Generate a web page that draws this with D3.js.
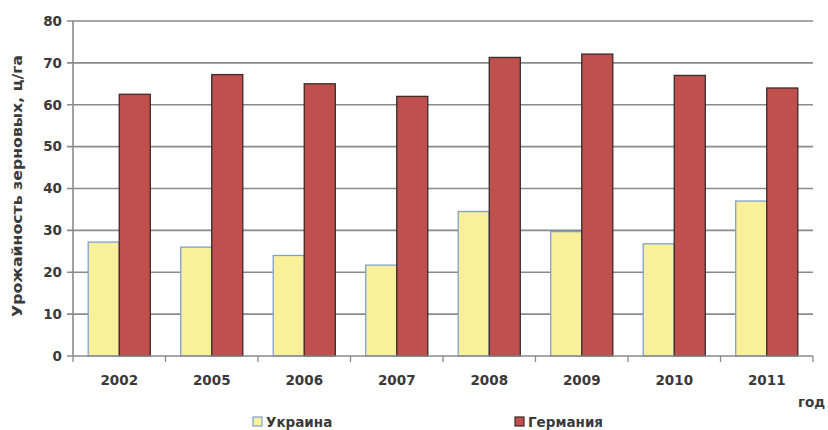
<!DOCTYPE html>
<html>
<head>
<meta charset="utf-8">
<style>
  body { margin: 0; background: #fff; }
  svg text { font-family: 'DejaVu Sans', Verdana, sans-serif; fill: #3a3a3a; }
  .tick-lbl { font-size: 13.5px; font-weight: bold; }
  .grid line { stroke: #8a8a8a; stroke-width: 1.6px; }
</style>
</head>
<body>
<div id="chart"></div>
<script src="https://cdn.jsdelivr.net/npm/d3@7"></script>
<script>
  var years = ["2002", "2005", "2006", "2007", "2008", "2009", "2010", "2011"];
  var ukraine = [27.2, 26, 24, 21.7, 34.5, 29.7, 26.8, 37];
  var germany = [62.5, 67.2, 65, 62, 71.3, 72.1, 67, 64];
  var yTicks = [0, 10, 20, 30, 40, 50, 60, 70, 80];
  var seriesNames = ["Украина", "Германия"];

  var width = 828, height = 430;
  var plotLeft = 73, plotRight = 813, plotTop = 21, plotBottom = 356;

  var svg = d3.select("#chart").append("svg")
    .attr("width", width)
    .attr("height", height);

  var x = d3.scaleBand().domain(years).range([plotLeft, plotRight]);
  var y = d3.scaleLinear().domain([0, 80]).range([plotBottom, plotTop]);
  var inner = d3.scaleBand().domain([0, 1]).range([0, x.bandwidth()])
    .paddingInner(0).paddingOuter(0.49);

  // grid lines
  svg.append("g").attr("class", "grid")
    .selectAll("line")
    .data(yTicks.slice(1))
    .enter().append("line")
      .attr("x1", plotLeft - 6).attr("x2", plotRight)
      .attr("y1", function(d) { return y(d); })
      .attr("y2", function(d) { return y(d); });

  // y axis line
  svg.append("line")
    .attr("x1", plotLeft).attr("x2", plotLeft)
    .attr("y1", plotTop).attr("y2", plotBottom)
    .attr("stroke", "#8a8a8a").attr("stroke-width", 1.6);

  svg.append("g").selectAll("text")
    .data(yTicks)
    .enter().append("text")
      .attr("class", "tick-lbl")
      .attr("x", plotLeft - 11)
      .attr("y", function(d) { return y(d); })
      .attr("dy", "0.36em")
      .attr("text-anchor", "end")
      .text(function(d) { return d; });

  var colors = [
    { fill: "#f8f199", stroke: "#7f9fd0" },
    { fill: "#c0504d", stroke: "#3a2a2a" }
  ];
  var series = [ukraine, germany];

  series.forEach(function(vals, si) {
    svg.append("g").selectAll("rect")
      .data(vals)
      .enter().append("rect")
        .attr("x", function(d, i) { return x(years[i]) + inner(si); })
        .attr("y", function(d) { return y(d); })
        .attr("width", inner.bandwidth())
        .attr("height", function(d) { return y(0) - y(d); })
        .attr("fill", colors[si].fill)
        .attr("stroke", colors[si].stroke)
        .attr("stroke-width", 1.3);
  });

  // x axis
  var xAxis = svg.append("g").attr("transform", "translate(0," + plotBottom + ")");
  xAxis.append("line")
    .attr("x1", plotLeft - 6).attr("x2", plotRight)
    .attr("stroke", "#8a8a8a").attr("stroke-width", 1.6);
  xAxis.selectAll(".xt")
    .data(years.map(function(d) { return x(d); }).concat([plotRight]))
    .enter().append("line")
      .attr("x1", function(d) { return d; }).attr("x2", function(d) { return d; })
      .attr("y1", 0).attr("y2", 6)
      .attr("stroke", "#8a8a8a").attr("stroke-width", 1.3);
  xAxis.selectAll("text")
    .data(years)
    .enter().append("text")
      .attr("class", "tick-lbl")
      .attr("x", function(d) { return x(d) + x.bandwidth() / 2; })
      .attr("y", 29)
      .attr("text-anchor", "middle")
      .text(function(d) { return d; });

  svg.append("text")
    .attr("class", "tick-lbl")
    .attr("x", 798).attr("y", 407)
    .text("год");

  svg.append("text")
    .attr("class", "tick-lbl")
    .style("font-size", "14px")
    .attr("transform", "translate(22,186) rotate(-90)")
    .attr("text-anchor", "middle")
    .attr("textLength", 262)
    .attr("lengthAdjust", "spacingAndGlyphs")
    .text("Урожайность зерновых, ц/га");

  // legend
  var legX = [253, 515];
  var leg = svg.append("g").selectAll("g")
    .data(seriesNames)
    .enter().append("g")
      .attr("transform", function(d, i) { return "translate(" + legX[i] + ",417)"; });
  leg.append("rect")
    .attr("width", 9).attr("height", 9)
    .attr("fill", function(d, i) { return colors[i].fill; })
    .attr("stroke", function(d, i) { return colors[i].stroke; })
    .attr("stroke-width", 1.2);
  leg.append("text")
    .attr("class", "tick-lbl")
    .attr("x", 13).attr("y", 10)
    .text(function(d) { return d; });
</script>
</body>
</html>
